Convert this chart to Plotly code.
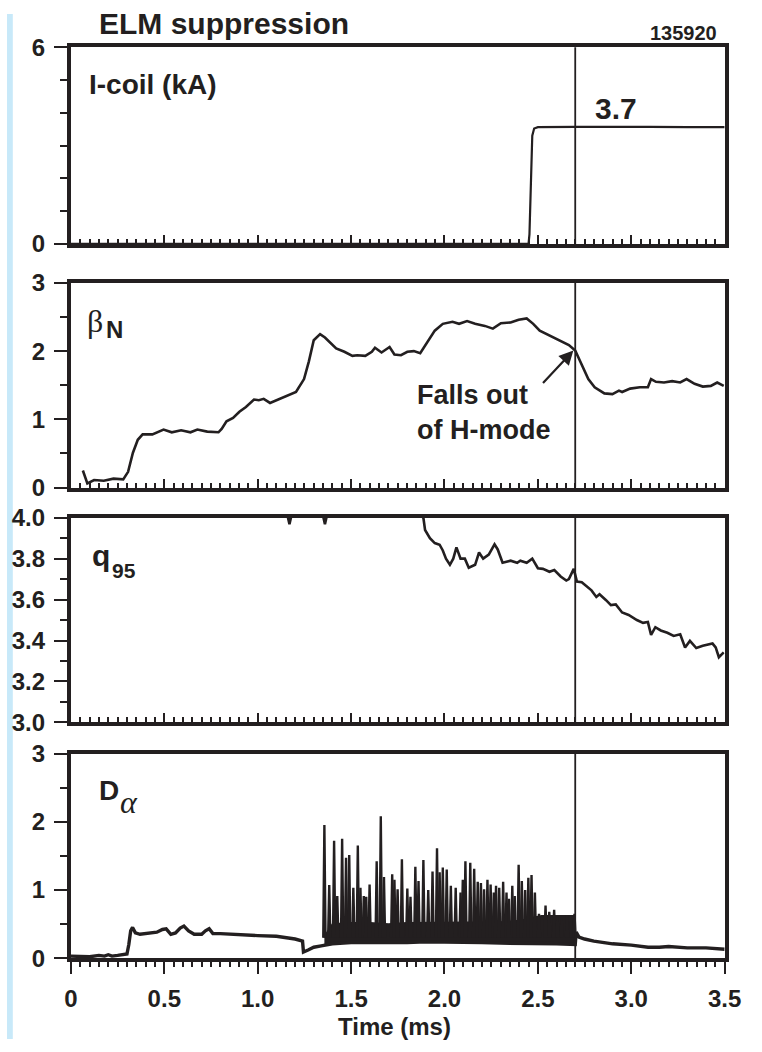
import plotly.graph_objects as go

W, H = 762, 1052
INK = "#231f20"
SANS = "Liberation Sans, Arial, Helvetica, sans-serif"
SERIF = "Liberation Serif, Times New Roman, serif"

# ---------------- data ----------------
t_event = 2.7

# I-coil (kA)
icoil_t = [0.0, 1.0, 2.0, 2.45, 2.455, 2.462, 2.47, 2.48, 2.50, 2.7, 2.9, 3.1, 3.3, 3.5]
icoil_v = [0, 0, 0, 0, 0.3, 2.0, 3.3, 3.52, 3.56, 3.57, 3.58, 3.57, 3.56, 3.56]

# beta_N
beta_t = [0.064, 0.088, 0.124, 0.176, 0.228, 0.28, 0.306, 0.332, 0.358, 0.384, 0.436, 0.496, 0.54, 0.59,
          0.64, 0.677, 0.73, 0.79, 0.807, 0.833, 0.868, 0.902, 0.937, 0.98, 1.006, 1.032, 1.066, 1.11,
          1.161, 1.205, 1.248, 1.274, 1.30, 1.334, 1.36, 1.386, 1.42, 1.464, 1.507, 1.533, 1.576, 1.611,
          1.628, 1.663, 1.706, 1.732, 1.767, 1.801, 1.836, 1.87, 1.905, 1.948, 1.991, 2.043, 2.078,
          2.121, 2.164, 2.216, 2.259, 2.302, 2.354, 2.397, 2.44, 2.475, 2.51, 2.562, 2.614, 2.666, 2.70,
          2.735, 2.77, 2.804, 2.856, 2.899, 2.934, 2.951, 2.994, 3.046, 3.089, 3.106, 3.132, 3.175,
          3.219, 3.262, 3.296, 3.339, 3.383, 3.426, 3.46, 3.495]
beta_v = [0.25, 0.06, 0.11, 0.10, 0.13, 0.12, 0.23, 0.51, 0.70, 0.78, 0.78, 0.85, 0.81, 0.84,
          0.81, 0.85, 0.82, 0.81, 0.86, 0.97, 1.02, 1.11, 1.18, 1.29, 1.28, 1.30, 1.24, 1.29,
          1.35, 1.40, 1.59, 1.85, 2.16, 2.25, 2.20, 2.13, 2.04, 1.99, 1.93, 1.94, 1.93, 1.99,
          2.05, 1.98, 2.06, 1.95, 1.94, 1.99, 2.00, 1.97, 2.11, 2.30, 2.40, 2.43, 2.40,
          2.44, 2.40, 2.37, 2.33, 2.41, 2.42, 2.46, 2.48, 2.40, 2.30, 2.23, 2.16, 2.09, 2.01,
          1.80, 1.59, 1.47, 1.38, 1.37, 1.42, 1.40, 1.45, 1.47, 1.47, 1.59, 1.55, 1.54,
          1.56, 1.54, 1.59, 1.52, 1.48, 1.49, 1.54, 1.49]

# q95
q95_t = [0.0, 0.5, 1.0, 1.15, 1.17, 1.19, 1.34, 1.36, 1.38, 1.6, 1.85, 1.887, 1.896, 1.922, 1.948,
         1.974, 1.991, 2.008, 2.029, 2.047, 2.064, 2.086, 2.109, 2.13, 2.164, 2.185, 2.207, 2.237,
         2.268, 2.285, 2.311, 2.354, 2.389, 2.406, 2.44, 2.47, 2.50, 2.527, 2.562, 2.588, 2.622,
         2.652, 2.666, 2.692, 2.709, 2.735, 2.761, 2.787, 2.813, 2.83, 2.865, 2.891, 2.917, 2.951,
         2.986, 3.03, 3.063, 3.089, 3.106, 3.129, 3.158, 3.193, 3.227, 3.262, 3.288, 3.314, 3.348,
         3.383, 3.435, 3.452, 3.469, 3.495]
q95_v = [4.6, 4.4, 4.2, 4.05, 3.968, 4.05, 4.05, 3.968, 4.05, 4.05, 4.03, 4.0, 3.94, 3.90, 3.876,
         3.868, 3.84, 3.80, 3.77, 3.80, 3.855, 3.80, 3.80, 3.756, 3.77, 3.83, 3.80, 3.82,
         3.87, 3.845, 3.78, 3.79, 3.78, 3.79, 3.78, 3.80, 3.753, 3.75, 3.736, 3.744, 3.713,
         3.693, 3.70, 3.75, 3.688, 3.685, 3.666, 3.645, 3.613, 3.626, 3.597, 3.573, 3.576, 3.537,
         3.525, 3.50, 3.486, 3.49, 3.427, 3.465, 3.449, 3.438, 3.422, 3.43, 3.366, 3.398, 3.363,
         3.374, 3.385, 3.366, 3.318, 3.342]

# D-alpha: main (inter-ELM) trace
da_t = [0.0, 0.05, 0.1, 0.15, 0.18, 0.2, 0.22, 0.25, 0.28, 0.30, 0.31, 0.32, 0.33, 0.345, 0.37, 0.40,
        0.43, 0.46, 0.49, 0.51, 0.535, 0.56, 0.585, 0.605, 0.63, 0.66, 0.70, 0.72, 0.74, 0.76, 0.8,
        0.9, 1.0, 1.1, 1.2, 1.24, 1.245, 1.27, 1.3, 1.34, 1.357,
        1.40, 1.50, 1.60, 1.70, 1.80, 1.90, 2.00, 2.10, 2.20, 2.30, 2.40, 2.50, 2.60, 2.70,
        2.705, 2.72, 2.75, 2.8, 2.84, 2.9, 3.0, 3.09, 3.15, 3.2, 3.3, 3.35, 3.4, 3.5]
da_v = [0.03, 0.02, 0.02, 0.04, 0.03, 0.05, 0.03, 0.04, 0.05, 0.06, 0.20, 0.40, 0.45, 0.37, 0.35, 0.36,
        0.36, 0.38, 0.42, 0.43, 0.35, 0.37, 0.44, 0.47, 0.40, 0.35, 0.35, 0.40, 0.43, 0.36, 0.36,
        0.34, 0.33, 0.32, 0.28, 0.25, 0.09, 0.12, 0.16, 0.18, 0.19,
        0.21, 0.23, 0.23, 0.22, 0.23, 0.24, 0.24, 0.23, 0.23, 0.22, 0.22, 0.21, 0.21, 0.20,
        0.38, 0.31, 0.28, 0.25, 0.23, 0.21, 0.19, 0.16, 0.16, 0.17, 0.15, 0.15, 0.15, 0.13]

# D-alpha: dense ELM band (lower / upper envelope)
band_t = [1.357, 1.40, 1.50, 1.60, 1.70, 1.80, 1.90, 2.00, 2.10, 2.20, 2.30, 2.40, 2.48, 2.52, 2.60, 2.70]
band_lo = [0.19, 0.21, 0.23, 0.23, 0.22, 0.23, 0.24, 0.24, 0.23, 0.23, 0.22, 0.22, 0.22, 0.21, 0.21, 0.20]
band_hi = [0.32, 0.50, 0.52, 0.52, 0.50, 0.52, 0.53, 0.53, 0.53, 0.53, 0.53, 0.55, 0.60, 0.62, 0.62, 0.62]

# D-alpha: ELM spikes (time, peak)
elm_t = [1.357, 1.383, 1.409, 1.426, 1.452, 1.473, 1.490, 1.512, 1.536, 1.550, 1.568, 1.581, 1.599,
         1.637, 1.659, 1.676, 1.720, 1.732, 1.749, 1.772, 1.801, 1.818, 1.844, 1.861, 1.887, 1.913,
         1.936, 1.960, 1.974, 1.991, 2.012, 2.034, 2.060, 2.086, 2.098, 2.112, 2.138, 2.159, 2.178,
         2.195, 2.212, 2.230, 2.247, 2.264, 2.276, 2.293, 2.314, 2.332, 2.345, 2.363, 2.376, 2.397,
         2.414, 2.432, 2.449, 2.466, 2.484, 2.506, 2.541, 2.561, 2.587, 2.605, 2.627, 2.656, 2.679,
         2.696]
elm_peak = [1.95, 1.07, 1.72, 0.91, 1.75, 1.47, 1.51, 1.03, 1.65, 1.03, 0.91, 0.90, 1.08,
            1.42, 2.08, 1.19, 1.23, 1.15, 1.01, 1.45, 1.02, 0.90, 1.34, 1.13, 1.44, 1.00,
            1.27, 1.61, 1.26, 1.33, 1.30, 1.06, 1.03, 0.96, 1.15, 1.42, 1.40, 1.31, 1.12,
            1.10, 1.01, 1.15, 1.08, 0.96, 1.06, 1.03, 1.12, 0.96, 0.87, 1.06, 0.91, 1.37,
            1.13, 1.00, 1.18, 1.22, 0.96, 0.65, 0.77, 0.68, 0.71, 0.61, 0.58, 0.63, 0.58,
            0.65]
elm_foot = 0.30

# ---------------- layout helpers (pixel -> paper) ----------------
X0, X1 = 66, 741
panels = [(34, 236), (276, 486), (517, 727), (759, 969)]  # (top, bottom) px
SPIKE_HW = 0.006  # half-width of an ELM spike, ms (drawing style)


def P(px):
    return px / W


def Q(py):
    return 1 - py / H


fig = go.Figure()


def line(x, y, ax, width=2.0):
    fig.add_trace(go.Scatter(x=x, y=y, mode="lines", line=dict(color=INK, width=width),
                             xaxis="x" + ax, yaxis="y" + ax, hoverinfo="skip", showlegend=False))


line(icoil_t, icoil_v, "", 2.2)
line(beta_t, beta_v, "2", 2.6)
line(q95_t, q95_v, "3", 2.6)

fig.add_trace(go.Scatter(x=band_t + band_t[::-1], y=band_lo + band_hi[::-1], mode="lines",
                         fill="toself", fillcolor=INK, line=dict(color=INK, width=1.5),
                         xaxis="x4", yaxis="y4", hoverinfo="skip", showlegend=False))
sx, sy = [], []
for t, p in zip(elm_t, elm_peak):
    sx += [t - SPIKE_HW, t, t + SPIKE_HW, None]
    sy += [elm_foot, p, elm_foot, None]
fig.add_trace(go.Scatter(x=sx, y=sy, mode="lines", line=dict(color=INK, width=2.4),
                         fill="toself", fillcolor=INK,
                         xaxis="x4", yaxis="y4", hoverinfo="skip", showlegend=False))
line(da_t, da_v, "4", 3.4)

tickfont = dict(family=SANS, size=24, color=INK, weight="bold")

yspecs = [
    dict(range=[0, 6], dtick=6, minor=1, fmt="d"),
    dict(range=[0, 3], dtick=1, minor=0.5, fmt="d"),
    dict(range=[3.0, 4.0], dtick=0.2, minor=0.1, fmt=".1f"),
    dict(range=[0, 3], dtick=1, minor=0.5, fmt="d"),
]

lay = {}
for i, ((top, bot), ys) in enumerate(zip(panels, yspecs)):
    sfx = "" if i == 0 else str(i + 1)
    bottom = i == 3
    lay["xaxis" + sfx] = dict(
        domain=[P(X0), P(X1)], range=[0, 3.5], anchor="y" + sfx,
        showline=True, linewidth=4, linecolor=INK, mirror=True,
        showgrid=False, zeroline=False,
        tickmode="linear", tick0=0, dtick=0.5, tickformat=".1f", labelalias={"0.0": "0"},
        ticks="outside" if bottom else "inside", ticklen=12 if bottom else 9,
        tickwidth=2, tickcolor=INK,
        minor=dict(tickmode="linear", tick0=0, dtick=0.05, ticks="outside" if bottom else "inside",
                   ticklen=5, tickwidth=1.5, tickcolor=INK),
        showticklabels=bottom, tickfont=tickfont, ticklabelstandoff=4,
        ticklabeloverflow="allow",
    )
    lay["yaxis" + sfx] = dict(
        domain=[Q(bot), Q(top)], range=ys["range"], anchor="x" + sfx,
        showline=True, linewidth=4, linecolor=INK, mirror=True,
        showgrid=False, zeroline=False,
        tickmode="linear", tick0=ys["range"][0], dtick=ys["dtick"], tickformat=ys["fmt"],
        ticks="outside", ticklen=13, tickwidth=2, tickcolor=INK,
        minor=dict(tickmode="linear", tick0=ys["range"][0], dtick=ys["minor"], ticks="outside",
                   ticklen=7, tickwidth=2, tickcolor=INK),
        tickfont=tickfont, ticklabelstandoff=4, ticklabeloverflow="allow",
    )

shapes = [dict(type="rect", xref="paper", yref="paper", x0=0, x1=P(6), y0=0, y1=1,
               fillcolor="#c8e9f9", line=dict(width=0), layer="below")]
for i in range(4):
    sfx = "" if i == 0 else str(i + 1)
    shapes.append(dict(type="line", xref="x" + sfx, yref="y" + sfx + " domain",
                       x0=t_event, x1=t_event, y0=0, y1=1, line=dict(color=INK, width=1.8)))


def txt(s, x, y, size, xanchor="left", family=SANS, bold=True, italic=False):
    return dict(text=s, x=P(x), y=Q(y), xref="paper", yref="paper", xanchor=xanchor,
                yanchor="middle", showarrow=False, align="left",
                font=dict(family=family, size=size, color=INK, weight="bold" if bold else "normal",
                          style="italic" if italic else "normal"))


annotations = [
    txt("ELM suppression", 224, 10, 30, xanchor="center"),
    txt("135920", 735, 19, 20, xanchor="right"),
    txt("I-coil (kA)", 83, 72, 28),
    txt("3.7", 605, 97, 30),
    txt("β", 81, 315, 32, family=SERIF, bold=False),
    txt("N", 100, 324, 24),
    txt("q", 86, 556, 30),
    txt("95", 106, 571, 21),
    txt("D", 93, 797, 28),
    txt("α", 115, 809, 32, family=SERIF, bold=False, italic=True),
    txt("Falls out<br>of H-mode", 421, 409, 27),
    txt("Time (ms)", 400, 1039, 24, xanchor="center"),
    dict(x=2.69, y=2.01, ax=2.52, ay=1.51, xref="x2", yref="y2", axref="x2", ayref="y2",
         showarrow=True, arrowhead=2, arrowsize=1.3, arrowwidth=2.2, arrowcolor=INK, text=""),
]

fig.update_layout(
    width=W, height=H, margin=dict(l=0, r=0, t=0, b=0),
    paper_bgcolor="white", plot_bgcolor="white",
    showlegend=False, shapes=shapes, annotations=annotations, **lay,
)

fig.write_html("out.html")
